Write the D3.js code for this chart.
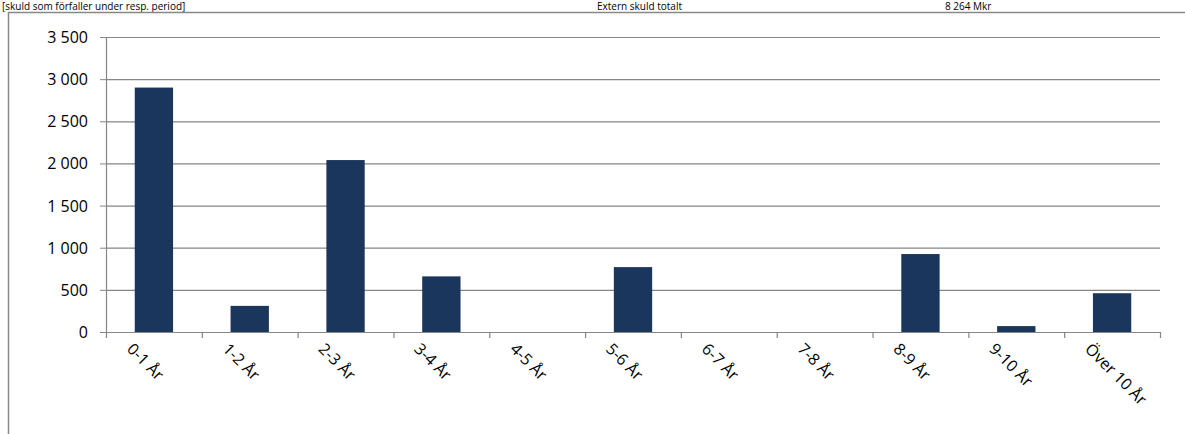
<!DOCTYPE html>
<html><head><meta charset="utf-8">
<script src="https://cdn.jsdelivr.net/npm/d3@7"></script>
<style>body{margin:0;background:#fff}svg{font-family:"Open Sans","Liberation Sans",Arial,sans-serif}</style>
</head><body><div id="chart"></div>
<script>
const categories = ["0-1 År","1-2 År","2-3 År","3-4 År","4-5 År","5-6 År","6-7 År","7-8 År","8-9 År","9-10 År","Över 10 År"];
const values = [2900, 310, 2040, 660, 0, 770, 0, 0, 925, 70, 460];
const yTicks = [0, 500, 1000, 1500, 2000, 2500, 3000, 3500];

const width = 1185, height = 434;
const svg = d3.select("#chart").append("svg").attr("width", width).attr("height", height);

// header text from the sheet above
svg.append("text").attr("x", 2).attr("y", 10).attr("font-size", 10).text("[skuld som förfaller under resp. period]");
svg.append("text").attr("x", 597).attr("y", 10).attr("font-size", 10).text("Extern skuld totalt");
svg.append("text").attr("x", 945).attr("y", 10).attr("font-size", 10).text("8 264 Mkr");

// chart frame
svg.append("path").attr("d", "M8.5,434 V12.5 H1185").attr("fill", "none").attr("stroke", "#888").attr("stroke-width", 1.5);

const x = d3.scaleBand().domain(categories).range([106, 1160]).paddingInner(0.6).paddingOuter(0.3);
const xb = d3.scaleBand().domain(categories).range([106, 1160]);
const y = d3.scaleLinear().domain([0, 3500]).range([332, 37]);

svg.selectAll(".grid").data(yTicks).join("line")
  .attr("x1", 106).attr("x2", 1160).attr("y1", d => y(d) + 0.5).attr("y2", d => y(d) + 0.5)
  .attr("stroke", "#868686").attr("stroke-width", 1.2);

svg.selectAll(".ylab").data(yTicks).join("text")
  .attr("x", 88).attr("y", d => y(d) + 6).attr("text-anchor", "end").attr("font-size", 16)
  .text(d => d3.format(",")(d).replace(",", " "));

svg.append("line").attr("x1", 106.5).attr("x2", 106.5).attr("y1", 37).attr("y2", 332).attr("stroke", "#868686").attr("stroke-width", 1.2);
svg.selectAll(".ytk").data(yTicks).join("line").attr("x1", 100).attr("x2", 106).attr("y1", d => y(d) + 0.5).attr("y2", d => y(d) + 0.5).attr("stroke", "#868686");

svg.selectAll(".xtk").data(categories.concat(["end"])).join("line")
  .attr("x1", (d, i) => 106.5 + i * xb.step()).attr("x2", (d, i) => 106.5 + i * xb.step())
  .attr("y1", 332).attr("y2", 338).attr("stroke", "#868686").attr("stroke-width", 1.2);

svg.selectAll(".bar").data(values).join("rect")
  .attr("x", (d, i) => x(categories[i])).attr("width", x.bandwidth())
  .attr("y", d => y(d)).attr("height", d => y(0) - y(d))
  .attr("fill", "#1b365d");

svg.selectAll(".xlab").data(categories).join("text")
  .attr("font-size", 16)
  .attr("transform", d => `translate(${xb(d) + xb.bandwidth() / 2 - 28},${350}) rotate(45)`)
  .text(d => d);
</script></body></html>
